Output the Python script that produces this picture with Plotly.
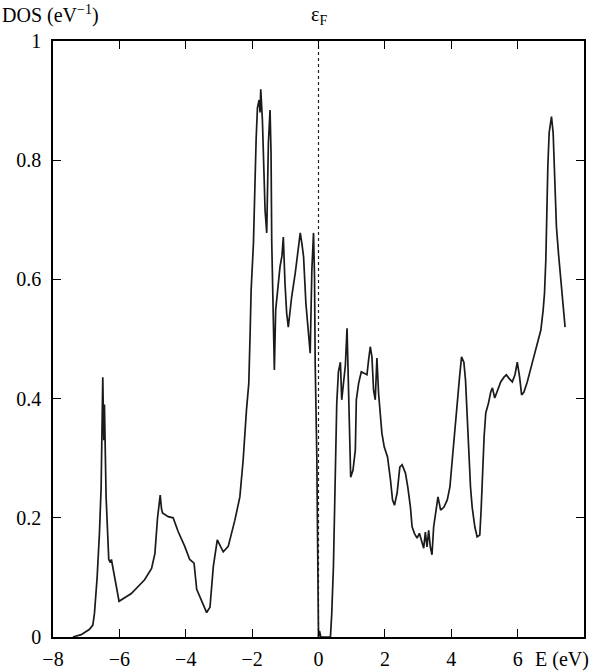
import plotly.graph_objects as go

# Energy (eV) and density of states (eV^-1)
energy = [-7.40, -7.15, -6.90, -6.80, -6.75, -6.67, -6.60, -6.55, -6.50, -6.47, -6.45, -6.40,
          -6.32, -6.27, -6.24, -6.20, -6.01, -5.64, -5.24, -5.03, -4.93, -4.85, -4.77, -4.73,
          -4.70, -4.53, -4.38, -4.23, -4.03, -3.88, -3.75, -3.67, -3.53, -3.37, -3.27, -3.17,
          -3.05, -2.87, -2.72, -2.52, -2.37, -2.27, -2.17, -2.10, -2.06, -2.03, -1.96, -1.93,
          -1.88, -1.84, -1.79, -1.76, -1.74, -1.69, -1.65, -1.61, -1.56, -1.51, -1.46, -1.43,
          -1.41, -1.36, -1.33, -1.29, -1.23, -1.16, -1.10, -1.06, -1.01, -0.96, -0.91, -0.81,
          -0.70, -0.60, -0.55, -0.50, -0.45, -0.38, -0.30, -0.25, -0.20, -0.15, -0.12, -0.10,
          -0.05, -0.02, 0.00, 0.03, 0.07, 0.36, 0.40, 0.45, 0.48, 0.52, 0.55, 0.60, 0.66,
          0.70, 0.76, 0.81, 0.86, 0.89, 0.93, 0.97, 1.04, 1.11, 1.14, 1.21, 1.29, 1.36, 1.46,
          1.51, 1.56, 1.61, 1.66, 1.71, 1.76, 1.81, 1.86, 1.91, 1.98, 2.08, 2.17, 2.23, 2.29,
          2.37, 2.45, 2.52, 2.62, 2.69, 2.77, 2.82, 2.89, 2.97, 3.04, 3.10, 3.17, 3.22, 3.27,
          3.32, 3.37, 3.42, 3.47, 3.53, 3.60, 3.68, 3.78, 3.88, 3.96, 4.03, 4.08, 4.13, 4.19,
          4.25, 4.31, 4.38, 4.43, 4.48, 4.53, 4.58, 4.63, 4.71, 4.78, 4.86, 4.90, 4.95, 4.99,
          5.04, 5.12, 5.19, 5.24, 5.31, 5.39, 5.49, 5.59, 5.66, 5.74, 5.84, 5.92, 5.99, 6.06,
          6.12, 6.19, 6.29, 6.44, 6.59, 6.70, 6.77, 6.81, 6.85, 6.87, 6.91, 6.95, 7.02, 7.07,
          7.10, 7.13, 7.17, 7.23, 7.30, 7.37, 7.43]
dos = [0.000, 0.004, 0.013, 0.020, 0.040, 0.100, 0.175, 0.250, 0.436, 0.330, 0.390, 0.235,
       0.130, 0.125, 0.130, 0.118, 0.060, 0.073, 0.096, 0.115, 0.140, 0.200, 0.238, 0.215,
       0.208, 0.202, 0.200, 0.177, 0.152, 0.130, 0.124, 0.080, 0.062, 0.041, 0.050, 0.118,
       0.163, 0.143, 0.152, 0.196, 0.235, 0.297, 0.381, 0.426, 0.510, 0.582, 0.661, 0.738,
       0.834, 0.888, 0.901, 0.880, 0.919, 0.867, 0.772, 0.716, 0.678, 0.829, 0.884, 0.812,
       0.666, 0.520, 0.448, 0.549, 0.587, 0.621, 0.640, 0.671, 0.594, 0.544, 0.520, 0.570,
       0.611, 0.661, 0.678, 0.660, 0.638, 0.560, 0.504, 0.476, 0.616, 0.678, 0.604, 0.460,
       0.300, 0.080, 0.000, 0.010, 0.000, 0.000, 0.040, 0.118, 0.208, 0.302, 0.392, 0.445,
       0.461, 0.398, 0.436, 0.456, 0.518, 0.453, 0.331, 0.268, 0.280, 0.314, 0.398, 0.426,
       0.445, 0.443, 0.440, 0.465, 0.487, 0.470, 0.414, 0.398, 0.468, 0.409, 0.369, 0.342,
       0.319, 0.302, 0.263, 0.230, 0.221, 0.242, 0.285, 0.289, 0.275, 0.252, 0.218, 0.185,
       0.174, 0.166, 0.174, 0.163, 0.149, 0.176, 0.151, 0.179, 0.151, 0.138, 0.185, 0.208,
       0.235, 0.213, 0.218, 0.230, 0.252, 0.297, 0.331, 0.369, 0.409, 0.436, 0.470, 0.461,
       0.431, 0.369, 0.314, 0.252, 0.218, 0.185, 0.168, 0.171, 0.213, 0.285, 0.336, 0.376,
       0.392, 0.411, 0.418, 0.401, 0.414, 0.428, 0.436, 0.440, 0.434, 0.428, 0.440, 0.461,
       0.436, 0.406, 0.411, 0.428, 0.460, 0.490, 0.515, 0.549, 0.577, 0.633, 0.711, 0.789,
       0.846, 0.873, 0.846, 0.787, 0.733, 0.688, 0.644, 0.604, 0.565, 0.520]

x_tick_vals = [-8, -6, -4, -2, 0, 2, 4, 6]
x_tick_text = ["\u22128", "\u22126", "\u22124", "\u22122", "0", "2", "4", "6"]
y_tick_vals = [0, 0.2, 0.4, 0.6, 0.8, 1]
y_tick_text = ["0", "0.2", "0.4", "0.6", "0.8", "1"]

FONT = "Liberation Serif"
FS = 20

fig = go.Figure()
fig.add_trace(go.Scatter(x=[0, 0], y=[0, 1], mode="lines",
                         line=dict(color="#222", width=1.2, dash="dot"),
                         hoverinfo="skip", showlegend=False))
fig.add_trace(go.Scatter(x=energy, y=dos, mode="lines",
                         line=dict(color="#1a1a1a", width=1.7),
                         showlegend=False))

axis_common = dict(showline=True, linecolor="black", linewidth=1.5, mirror="ticks",
                   ticks="inside", ticklen=8, tickwidth=1.3, tickcolor="black",
                   showgrid=False, zeroline=False, automargin=False,
                   tickfont=dict(family=FONT, size=FS, color="black"))

fig.update_xaxes(range=[-8, 8], tickmode="array", tickvals=x_tick_vals,
                 ticktext=x_tick_text, ticklabelstandoff=3, **axis_common)
fig.update_yaxes(range=[0, 1], tickmode="array", tickvals=y_tick_vals,
                 ticktext=y_tick_text, ticklabelstandoff=6, **axis_common)

fig.update_layout(
    width=600, height=672,
    margin=dict(l=53, r=16, t=41, b=35),
    paper_bgcolor="white", plot_bgcolor="white",
    font=dict(family=FONT, color="black"),
    annotations=[
        dict(text="DOS (eV<sup>\u22121</sup>)", xref="paper", yref="paper",
             x=-0.099, y=1.044, xanchor="left", yanchor="middle", showarrow=False,
             font=dict(family=FONT, size=FS, color="black")),
        dict(text="\u03b5<sub>F</sub>", xref="x", yref="paper",
             x=0, y=1.042, xanchor="center", yanchor="middle", showarrow=False,
             font=dict(family=FONT, size=FS, color="black")),
        dict(text="E (eV)", xref="paper", yref="paper",
             x=1.014, y=-0.038, xanchor="right", yanchor="middle", showarrow=False,
             font=dict(family=FONT, size=FS, color="black")),
    ],
)

fig.write_html("out.html",
               config={"displayModeBar": False},
               post_script="document.body.style.margin='0';document.body.style.padding='0';")
